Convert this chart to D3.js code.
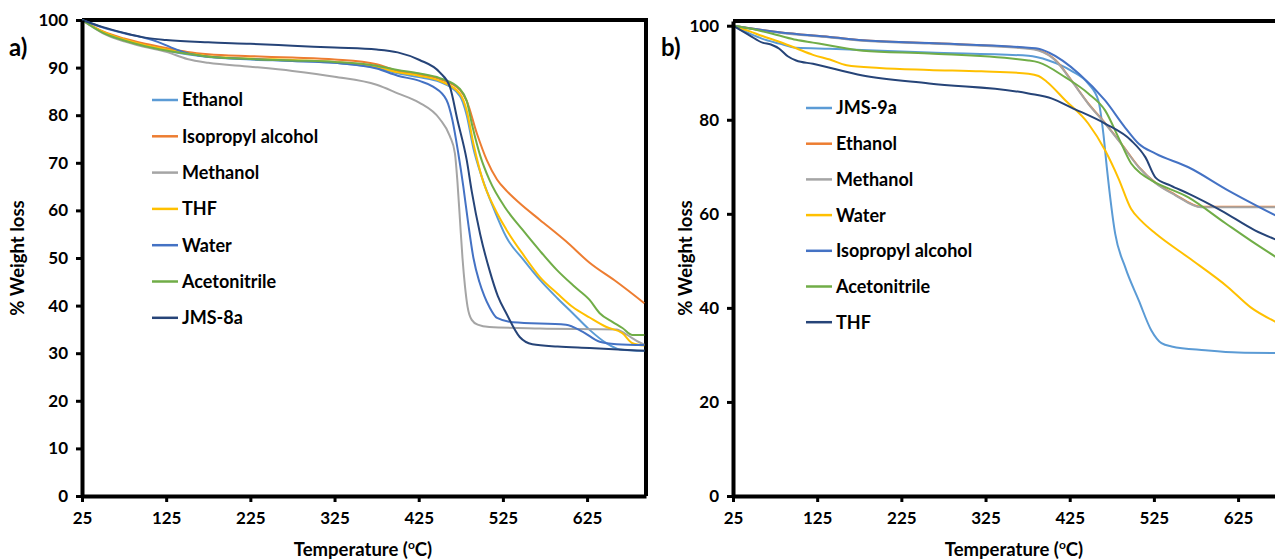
<!DOCTYPE html>
<html>
<head>
<meta charset="utf-8">
<script src="https://cdn.jsdelivr.net/npm/d3@7"></script>
<style>
	body { margin: 0; background: #fff; }
	text { font-family: Lato, 'Open Sans', sans-serif; font-weight: bold; fill: #000; }
</style>
</head>
<body>
<svg id="chart"></svg>
<script>
// ---- data: [temperature (°C), % weight] ----
const tempTicks = [25, 125, 225, 325, 425, 525, 625];
const weightTicksA = [0, 10, 20, 30, 40, 50, 60, 70, 80, 90, 100];
const weightTicksB = [0, 20, 40, 60, 80, 100];

// panel a)
const namesA = ['Ethanol', 'Isopropyl alcohol', 'Methanol', 'THF', 'Water', 'Acetonitrile', 'JMS-8a'];

const ethanolA = [[25, 100], [50, 97.4], [75, 95.8], [100, 94.6], [125, 93.6], [150, 92.8], [175, 92.2], [225, 91.7],
	[275, 91.4], [325, 91.0], [375, 90.0], [400, 88.8], [425, 88.0], [450, 87.0], [474, 84], [482, 80], [490, 73],
	[500, 67], [515, 60], [529, 54.4], [550, 49.5], [569, 45.4], [590, 41.5], [608, 38.4], [628, 34.9], [648, 32.1],
	[664, 30.8], [693, 30.5]];
const isopropylA = [[25, 100], [50, 97.6], [75, 96.1], [100, 95.0], [125, 94.1], [150, 93.3], [175, 92.8], [225, 92.4],
	[275, 92.1], [325, 91.7], [375, 90.7], [400, 89.3], [425, 88.6], [450, 87.6], [474, 85.3], [482, 83], [494, 76.2],
	[506, 70.5], [518, 66.5], [530, 64], [545, 61.5], [569, 58], [600, 53.5], [628, 49], [660, 45], [693, 40.5]];
const methanolA = [[25, 100], [50, 97.2], [75, 95.5], [100, 94.3], [125, 93.3], [150, 91.8], [175, 91.0], [225, 90.2],
	[275, 89.3], [325, 88.1], [375, 86.4], [400, 84.6], [425, 82.7], [450, 79.2], [462, 75.6], [468, 72], [471, 66],
	[474, 58], [477, 50], [480, 44], [483, 39.8], [488, 37], [495, 36], [509, 35.5], [569, 35.2], [660, 35],
	[672, 33.9], [687, 32.3], [693, 31.8]];
const thfA = [[25, 100], [50, 97.5], [75, 95.9], [100, 94.7], [125, 93.8], [150, 93.0], [175, 92.4], [225, 91.9],
	[275, 91.6], [325, 91.2], [375, 90.2], [400, 89.0], [425, 88.3], [450, 87.2], [474, 84.5], [482, 81], [490, 74],
	[501, 66.4], [515, 60.5], [529, 56], [550, 50.5], [569, 46], [590, 42.5], [608, 39.7], [628, 37.5], [648, 35.5],
	[667, 34.2], [679, 32.1], [693, 31.6]];
const waterA = [[25, 100], [50, 98.4], [75, 97.2], [100, 96.2], [115, 95.4], [130, 94.3], [145, 93.3], [165, 92.5],
	[225, 91.8], [275, 91.4], [325, 91.0], [375, 89.8], [400, 88.3], [426, 87.2], [442, 86], [458, 83.2], [465, 79],
	[472, 72], [478, 65], [484, 57], [490, 50], [497, 45], [503, 42], [509, 39.7], [518, 37.4], [537, 36.5],
	[600, 36], [620, 34.5], [640, 32.4], [660, 31.9], [693, 31.7]];
const acetonitrileA = [[25, 100], [50, 97.3], [75, 95.7], [100, 94.5], [125, 93.6], [150, 92.9], [175, 92.3], [225, 91.8],
	[275, 91.5], [325, 91.2], [375, 90.4], [400, 89.5], [425, 88.8], [450, 87.8], [474, 85.5], [482, 83], [489, 77.5],
	[498, 71.5], [509, 66.4], [528, 60.5], [548, 56], [569, 51.5], [589, 47.5], [610, 44], [628, 41.2], [640, 38.4],
	[655, 36.6], [667, 35.3], [679, 33.8], [693, 33.8]];
const jms8a = [[25, 100], [50, 98.5], [75, 97.3], [100, 96.3], [125, 95.8], [175, 95.3], [225, 95.0], [275, 94.6],
	[325, 94.2], [375, 93.8], [400, 93.2], [426, 91.6], [450, 89], [462, 86], [471, 79], [482, 70.6], [488, 64],
	[498, 55], [509, 47.5], [519, 42], [529, 38.4], [545, 33.4], [560, 31.9], [590, 31.4], [628, 31.1], [693, 30.5]];

// panel b)
const namesB = ['JMS-9a', 'Ethanol', 'Methanol', 'Water', 'Isopropyl alcohol', 'Acetonitrile', 'THF'];

const jms9a = [[25, 100], [45, 98.3], [60, 97.2], [80, 96.2], [100, 95.3], [140, 95.1], [258, 94.3], [376, 93.6],
	[400, 92.6], [427, 90.4], [447, 87.7], [459, 84.1], [465, 77], [469, 70], [479, 55.8], [491, 48.6], [507, 41.6],
	[522, 35.2], [534, 32.5], [546, 31.8], [586, 31], [625, 30.5], [670, 30.4]];
const ethanolB = [[25, 100], [80, 98.6], [140, 97.6], [179, 96.9], [258, 96.3], [376, 95.2], [388, 94.8], [408, 92.7],
	[427, 88.4], [447, 83.5], [467, 79.3], [486, 75], [507, 70], [527, 66.6], [550, 64.1], [581, 61.5], [670, 61.5]];
const methanolB = [[25, 100], [80, 98.5], [140, 97.5], [179, 96.8], [258, 96.2], [376, 95.1], [388, 94.7], [408, 92.6],
	[427, 88.3], [447, 83.4], [467, 79.2], [486, 74.9], [507, 69.9], [527, 66.5], [550, 64], [581, 61.4], [670, 61.4]];
const waterB = [[25, 100], [45, 98.8], [60, 97.8], [80, 96.6], [100, 95.2], [120, 93.8], [140, 92.8], [160, 91.6],
	[199, 91.0], [258, 90.6], [320, 90.3], [376, 89.8], [388, 89.3], [397, 88.2], [420, 84.1], [447, 79.2], [467, 73.5],
	[483, 67.5], [498, 61], [510, 58.5], [527, 55.8], [566, 50.7], [613, 44.4], [640, 40.1], [670, 37]];
const isopropylB = [[25, 100], [80, 98.6], [140, 97.6], [179, 96.9], [258, 96.3], [376, 95.3], [388, 95.1], [400, 94.3],
	[436, 89.8], [467, 84.1], [491, 78.3], [507, 74.9], [527, 72.8], [566, 69.9], [613, 65], [670, 59.6]];
const acetonitrileB = [[25, 100], [45, 99.4], [80, 97.9], [100, 97.0], [120, 96.4], [140, 95.8], [179, 94.7], [258, 94.1],
	[376, 92.6], [388, 92.2], [420, 89], [447, 85.6], [467, 82], [483, 76.2], [498, 70.7], [510, 68.5], [522, 67.1],
	[566, 63.5], [610, 58], [645, 53.7], [670, 50.8]];
const thfB = [[25, 100], [45, 97.9], [60, 96.4], [70, 96.0], [80, 95.1], [90, 93.5], [100, 92.6], [120, 91.9],
	[179, 89.4], [258, 87.7], [376, 85.6], [404, 84.5], [427, 82.6], [467, 79.2], [498, 75.6], [515, 72], [527, 67.7],
	[545, 66], [566, 64.3], [605, 60.7], [645, 56.5], [670, 54.5]];

// ---- styling ----
const colorsA = ['#5b9bd5', '#ed7d31', '#a5a5a5', '#ffc000', '#4472c4', '#70ad47', '#264478'];
const colorsB = ['#5b9bd5', '#ed7d31', '#a5a5a5', '#ffc000', '#4472c4', '#70ad47', '#264478'];

const svg = d3.select('#chart').attr('width', 1275).attr('height', 560);

const panels = [
	{
		label: 'a)', labelX: 9, names: namesA, colors: colorsA, yTicks: weightTicksA,
		series: [ethanolA, isopropylA, methanolA, thfA, waterA, acetonitrileA, jms8a],
		left: 82, right: 646, top: 20, bottom: 496, yMax: 100, rightBorder: true,
		legendX: 152, legendY: 100, legendStep: 36.3, titleY: 18
	},
	{
		label: 'b)', labelX: 661, names: namesB, colors: colorsB, yTicks: weightTicksB,
		series: [jms9a, ethanolB, methanolB, waterB, isopropylB, acetonitrileB, thfB],
		left: 733, right: 1297, top: 21, bottom: 496, yMax: 101, rightBorder: false,
		legendX: 806, legendY: 108, legendStep: 35.7, titleY: 686
	}
];

panels.forEach(p => {
	const x = d3.scaleLinear().domain([25, 695]).range([p.left, p.right]);
	const y = d3.scaleLinear().domain([0, p.yMax]).range([p.bottom, p.top]);
	const g = svg.append('g');

	// frame: top (and right) borders
	g.append('line')
		.attr('x1', p.left).attr('x2', p.right + 2)
		.attr('y1', p.top).attr('y2', p.top)
		.attr('stroke', '#000').attr('stroke-width', 4);
	if (p.rightBorder) {
		g.append('line')
			.attr('x1', p.right).attr('x2', p.right)
			.attr('y1', p.top - 2).attr('y2', p.bottom)
			.attr('stroke', '#000').attr('stroke-width', 4);
	}

	// curves
	const line = d3.line()
		.x(d => x(d[0]))
		.y(d => y(d[1]))
		.curve(d3.curveMonotoneX);

	g.selectAll('.curve')
		.data(p.series)
		.join('path')
		.attr('class', 'curve')
		.attr('fill', 'none')
		.attr('stroke', (d, i) => p.colors[i])
		.attr('stroke-width', 2)
		.attr('d', line);

	// axes
	const xAxis = g.append('g')
		.attr('transform', `translate(0,${p.bottom})`)
		.call(d3.axisBottom(x).tickValues(tempTicks).tickSize(6).tickSizeOuter(0).tickPadding(10));
	const yAxis = g.append('g')
		.attr('transform', `translate(${p.left},0)`)
		.call(d3.axisLeft(y).tickValues(p.yTicks).tickSize(6).tickSizeOuter(0).tickPadding(8));

	[xAxis, yAxis].forEach(a => {
		a.select('.domain').attr('stroke', '#000').attr('stroke-width', 4);
		a.selectAll('.tick line').attr('stroke', '#000').attr('stroke-width', 3);
		a.selectAll('.tick text')
			.style('font-family', 'Lato, sans-serif')
			.style('font-weight', 'bold')
			.style('font-size', '17px')
			.attr('fill', '#000');
	});

	// axis titles
	const xt = g.append('text')
		.attr('x', (p.left + x(695)) / 2 - 1)
		.attr('y', 556)
		.attr('text-anchor', 'middle')
		.style('font-size', '18.5px');
	xt.append('tspan').text('Temperature (');
	xt.append('tspan').text('o').attr('dy', -7).style('font-size', '12px');
	xt.append('tspan').text('C)').attr('dy', 7);

	g.append('text')
		.attr('transform', `translate(${p.titleY + 6},258) rotate(-90)`)
		.attr('text-anchor', 'middle')
		.style('font-size', '18.5px')
		.text('% Weight loss');

	// panel label
	g.append('text')
		.attr('x', p.labelX)
		.attr('y', 56)
		.style('font-size', '24px')
		.text(p.label);

	// legend
	const leg = g.append('g')
		.selectAll('g')
		.data(p.names)
		.join('g')
		.attr('transform', (d, i) => `translate(${p.legendX},${p.legendY + i * p.legendStep})`);
	leg.append('line')
		.attr('x1', 0).attr('x2', 26)
		.attr('stroke', (d, i) => p.colors[i])
		.attr('stroke-width', 2.5);
	leg.append('text')
		.attr('x', 30)
		.attr('dy', '0.36em')
		.style('font-size', '18px')
		.text(d => d);
});
</script>
</body>
</html>
